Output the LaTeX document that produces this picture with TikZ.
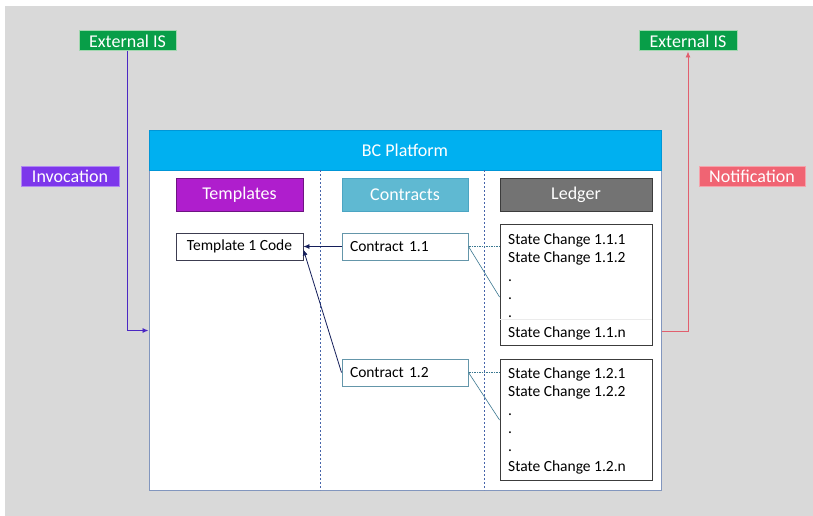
\documentclass[tikz,border=0pt]{standalone}
\usepackage{fontspec}
\setmainfont{Carlito}
\usetikzlibrary{arrows.meta}
\definecolor{bggray}{RGB}{217,217,217}
\definecolor{extgreen}{RGB}{8,158,72}
\definecolor{extgreenb}{RGB}{160,215,175}
\definecolor{invpurple}{RGB}{125,55,235}
\definecolor{invline}{RGB}{75,40,195}
\definecolor{notifred}{RGB}{240,100,115}
\definecolor{notifline}{RGB}{225,95,110}
\definecolor{bcblue}{RGB}{0,176,240}
\definecolor{bcblueb}{RGB}{0,150,215}
\definecolor{platb}{RGB}{130,150,190}
\definecolor{tplfill}{RGB}{175,30,205}
\definecolor{tplb}{RGB}{110,20,130}
\definecolor{ctrfill}{RGB}{95,185,210}
\definecolor{ctrb}{RGB}{75,165,195}
\definecolor{ledfill}{RGB}{115,115,115}
\definecolor{ledb}{RGB}{60,60,60}
\definecolor{sepline}{RGB}{70,100,170}
\definecolor{cbox}{RGB}{100,150,170}
\definecolor{tbox}{RGB}{60,60,80}
\definecolor{navy}{RGB}{20,30,90}
\definecolor{teal2}{RGB}{60,120,145}
\begin{document}
\begin{tikzpicture}[x=1pt,y=-1pt,
  bigtxt/.style={font=\fontsize{18}{20}\selectfont},
  smalltxt/.style={font=\fontsize{15.5}{17}\selectfont},
  tagbox/.style={bigtxt,text=white,inner sep=0pt,minimum height=20pt,line width=1pt},
  headbox/.style={bigtxt,text=white,inner sep=0pt,minimum height=33pt,line width=1pt},
  codebox/.style={smalltxt,inner sep=0pt,minimum height=27pt,fill=white},
  sline/.style={smalltxt,anchor=base west,inner sep=0pt},
  sepdash/.style={draw=sepline,line width=0.8pt,dash pattern=on 2pt off 2pt},
  refarrow/.style={draw=navy,line width=0.8pt,-{Latex[length=6pt,width=5pt]}},
  linkdot/.style={draw=teal2,line width=0.7pt,densely dotted},
  linkline/.style={draw=teal2,line width=0.6pt}
]
\useasboundingbox (0,0) rectangle (813,516);
\fill[white] (0,0) rectangle (813,516);
\fill[bggray] (5,6) rectangle (813,516);

% platform
\node[draw=platb,line width=1pt,fill=white,minimum width=512pt,minimum height=360pt,inner sep=0pt] (plat) at (405,310) {};
\node[bigtxt,text=white,fill=bcblue,draw=bcblueb,line width=0.6pt,minimum width=512pt,minimum height=40pt,inner sep=0pt] (bchead) at (405,150) {BC Platform};

% separators
\coordinate (sepAt) at (320.5,170);
\coordinate (sepAb) at (320.5,490);
\coordinate (sepBt) at (484.5,170);
\coordinate (sepBb) at (484.5,490);
\draw[sepdash] (sepAt) -- (sepAb);
\draw[sepdash] (sepBt) -- (sepBb);

% column headers
\node[headbox,fill=tplfill,draw=tplb,minimum width=127pt] (tplh) at (239.5,194.5) {Templates};
\node[headbox,fill=ctrfill,draw=ctrb,minimum width=126pt] (ctrh) at (405,194.5) {Contracts};
\node[headbox,fill=ledfill,draw=ledb,minimum width=152pt] (ledh) at (576,194.5) {Ledger};

% code boxes
\node[codebox,draw=tbox,line width=0.8pt,minimum width=127pt] (tcode) at (239.5,246.5) {Template 1 Code};
\node[codebox,draw=cbox,line width=1pt,minimum width=126pt,text width=110pt,align=left] (c11) at (405,246.5) {Contract 1.1};
\node[codebox,draw=cbox,line width=1pt,minimum width=126pt,text width=110pt,align=left] (c12) at (405,372.5) {Contract 1.2};

% state boxes
\node[draw=ledb,line width=0.9pt,fill=white,minimum width=152pt,minimum height=121.5pt,inner sep=0pt] (sc1) at (576,284.8) {};
\node[draw=ledb,line width=0.9pt,fill=white,minimum width=152pt,minimum height=121.5pt,inner sep=0pt] (sc2) at (576,420) {};
\draw[black!8,line width=0.8pt] ([xshift=0.5pt]sc1.west |- 0,319.5) -- ([xshift=-0.5pt]sc1.east |- 0,319.5);

\node[sline] (s111) at (508,244) {State Change 1.1.1};
\node[sline] (s112) at (508,262) {State Change 1.1.2};
\node[sline] (s11d1) at (508,281) {.};
\node[sline] (s11d2) at (508,299.5) {.};
\node[sline] (s11d3) at (508,317) {.};
\node[sline] (s11n) at (508,337) {State Change 1.1.n};

\node[sline] (s121) at (508,378.5) {State Change 1.2.1};
\node[sline] (s122) at (508,396.5) {State Change 1.2.2};
\node[sline] (s12d1) at (508,415) {.};
\node[sline] (s12d2) at (508,433.5) {.};
\node[sline] (s12d3) at (508,451) {.};
\node[sline] (s12n) at (508,471.5) {State Change 1.2.n};

% external tags
\node[tagbox,fill=extgreen,draw=extgreenb,minimum width=97pt] (extL) at (127.5,41) {External IS};
\node[tagbox,fill=extgreen,draw=extgreenb,minimum width=98pt] (extR) at (688,41) {External IS};
\node[tagbox,fill=invpurple,draw=invpurple!60!white,minimum width=98pt] (invoc) at (70,176) {Invocation};
\node[tagbox,fill=notifred,draw=notifred!60!white,minimum width=106pt] (notif) at (752,176) {Notification};

% invocation / notification
\draw[invline,line width=0.9pt,-{Latex[length=6pt,width=5pt]}] (extL.south) |- (plat.west |- 0,330.5);
\draw[notifline,line width=0.9pt,-{Latex[length=6pt,width=5pt]}] (plat.east |- 0,331) -| (extR.south);

% references to template
\draw[refarrow] (c11.west) -- (tcode.east);
\draw[refarrow] (c12.west) -- ([yshift=-3pt]tcode.east);

% links to ledger
\draw[linkdot] (c11.east) -- (sc1.west |- c11.east);
\draw[linkline] (c11.east) -- (sc1.west |- 0,297);
\draw[linkdot] (c12.east) -- (sc2.west |- c12.east);
\draw[linkline] (c12.east) -- (sc2.west |- 0,420);
\end{tikzpicture}
\end{document}
